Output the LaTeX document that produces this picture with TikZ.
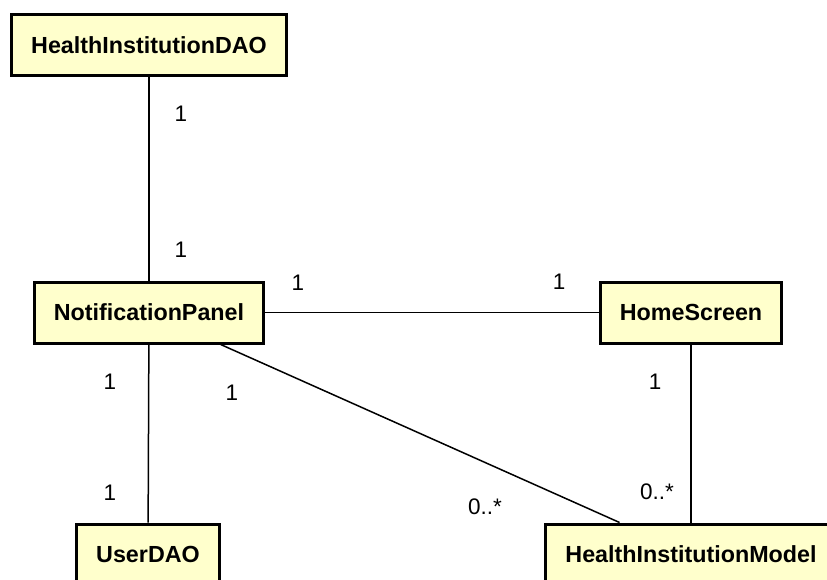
\documentclass[tikz,border=0pt]{standalone}
\usepackage{fontspec}
\setmainfont{Liberation Sans}
\begin{document}
\begin{tikzpicture}[x=1pt,y=-1pt,
        cls/.style={draw, line width=3pt, fill={rgb,255:red,255;green,255;blue,204},
            font=\fontsize{23.3}{28}\selectfont\bfseries, inner xsep=19.5pt,
            minimum height=61pt},
        mult/.style={font=\fontsize{22.5}{26}\selectfont, inner sep=0pt}]
        \useasboundingbox (0,0) rectangle (827,580);

        \node[cls] (hidao) at (149,45) {HealthInstitutionDAO};
        \node[cls] (panel) at (149,312.5) {NotificationPanel};
        \node[cls] (home) at (691,312.5) {HomeScreen};
        \node[cls] (userdao) at (148,554.5) {UserDAO};
        \node[cls] (himodel) at (691,554.5) {HealthInstitutionModel};

        \draw[line width=1.5pt] (hidao) -- (panel);
        \draw[line width=1.5pt] (panel) -- (home);
        \draw[line width=1.5pt] (panel) -- (userdao);
        \draw[line width=1.5pt] (panel) -- (himodel);
        \draw[line width=1.5pt] (home) -- (himodel);

        \node[mult] (m1) at (181,114) {1};
        \node[mult] (m2) at (181,250) {1};
        \node[mult] (m3) at (298,283) {1};
        \node[mult] (m4) at (559,282) {1};
        \node[mult] (m5) at (110,382) {1};
        \node[mult] (m6) at (232,393) {1};
        \node[mult] (m7) at (110,493) {1};
        \node[mult] (m8) at (485,507) {0..*};
        \node[mult] (m9) at (655,382) {1};
        \node[mult] (m10) at (657,492) {0..*};
\end{tikzpicture}
\end{document}
